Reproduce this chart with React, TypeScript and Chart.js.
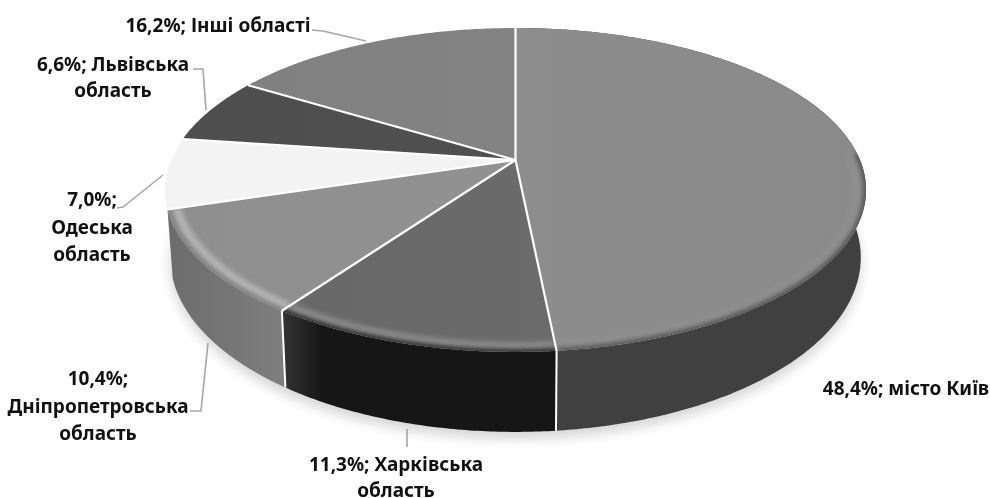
import React, { useEffect, useRef } from "react";
import { Chart, registerables } from "chart.js";

Chart.register(...registerables);

const regions = ["місто Київ", "Харківська область", "Дніпропетровська область", "Одеська область", "Львівська область", "Інші області"];
const shares = [48.4, 11.3, 10.4, 7.0, 6.6, 16.2];
const topColors = ["#909090", "#676767", "#8f8f8f", "#f3f3f3", "#4e4e4e", "#7f7f7f"];
const topColorsEnd = ["#8a8a8a", "#6e6e6e", "#939393", "#f3f3f3", "#515151", "#878787"];
const wallLeft = ["#333333", "#343434", "#6c6c6c", "#ffffff", "#333333", "#555555"];
const wallRight = ["#404040", "#161616", "#7e7e7e", "#ffffff", "#333333", "#555555"];
const bevelLight = ["#8f8f8f", "#8c8c8c", "#b5b5b5", "#f3f3f3", "#4e4e4e", "#7f7f7f"];
const labelLines = [
  ["48,4%; місто Київ"],
  ["11,3%; Харківська", "область"],
  ["10,4%;", "Дніпропетровська", "область"],
  ["7,0%;", "Одеська", "область"],
  ["6,6%; Львівська", "область"],
  ["16,2%; Інші області"],
];

// label layout: centre x, first-line centre y, line step
const labelLayout = [
  { x: 906, y: 390, step: 0 },
  { x: 396, y: 466, step: 26 },
  { x: 98, y: 380, step: 27.5 },
  { x: 92, y: 201, step: 27.5 },
  { x: 113, y: 66, step: 26 },
  { x: 218, y: 27, step: 0 },
];
const leaders: number[][][] = [
  [],
  [[407, 429], [407, 447]],
  [[190, 411], [201, 411], [208, 343]],
  [[117, 208], [123, 207], [163, 175]],
  [[193, 69], [203, 69], [206, 110]],
  [[312, 30], [323, 31], [366, 41]],
];

const CX = 515.5;
const CY = 160;
const R = 344.5;
const K = 156.4;
const C = 0.185;
const DEPTH = 65.2;
const BOTTOM_X = 0.985;

function top(a: number, r = 1): [number, number] {
  const u = Math.cos(a) * r;
  const v = Math.sin(a) * r;
  const den = 1 - C * v;
  return [CX + (R * u) / den, CY + (K * v) / den];
}
function bottom(a: number): [number, number] {
  const [x, y] = top(a);
  const den = 1 - C * Math.sin(a);
  return [CX + (x - CX) * BOTTOM_X, y + DEPTH / den];
}
function samples(a0: number, a1: number): number[] {
  const n = Math.max(2, Math.ceil(Math.abs(a1 - a0) / 0.01));
  const out: number[] = [];
  for (let i = 0; i <= n; i++) out.push(a0 + ((a1 - a0) * i) / n);
  return out;
}

const pie3d = {
  id: "pie3d",
  beforeDatasetsDraw(chart: any) {
    const ctx: CanvasRenderingContext2D = chart.ctx;
    const arcs: any[] = chart.getDatasetMeta(0).data;
    ctx.save();

    // soft ground shadow
    ctx.save();
    ctx.filter = "blur(6px)";
    ctx.fillStyle = "#d6d6d6";
    ctx.beginPath();
    samples(0, Math.PI * 2).forEach((a, i) => {
      const [x, y] = bottom(a);
      if (i) ctx.lineTo(x, y + 7); else ctx.moveTo(x, y + 7);
    });
    ctx.closePath();
    ctx.fill();
    ctx.restore();

    // walls
    arcs.forEach((arc, i) => {
      if (Math.sin((arc.startAngle + arc.endAngle) / 2) < 0.1 && i > 2) return;
      const pts = samples(arc.startAngle, arc.endAngle);
      const x0 = top(arc.endAngle)[0];
      const x1 = top(arc.startAngle)[0];
      const left = Math.min(x0, x1);
      const right = Math.max(x0, x1);
      const g = ctx.createLinearGradient(left, 0, i === 1 ? left + 40 : right, 0);
      g.addColorStop(0, wallLeft[i]);
      g.addColorStop(1, wallRight[i]);
      ctx.fillStyle = g;
      ctx.beginPath();
      pts.forEach((a, j) => {
        const [x, y] = top(a);
        if (j) ctx.lineTo(x, y); else ctx.moveTo(x, y);
      });
      pts.slice().reverse().forEach((a) => {
        const [x, y] = bottom(a);
        ctx.lineTo(x, y);
      });
      ctx.closePath();
      ctx.fill();
    });

    // wall separators
    arcs.forEach((arc) => {
      const s = Math.sin(arc.startAngle);
      if (s < 0.5) return;
      const p = top(arc.startAngle);
      const q = bottom(arc.startAngle);
      ctx.strokeStyle = "#ffffff";
      ctx.lineWidth = 2;
      ctx.beginPath();
      ctx.moveTo(p[0], p[1]);
      ctx.lineTo(q[0], q[1]);
      ctx.stroke();
    });

    // top faces
    arcs.forEach((arc, i) => {
      const pts = samples(arc.startAngle, arc.endAngle);
      const path = new Path2D();
      path.moveTo(CX, CY);
      pts.forEach((a) => {
        const [x, y] = top(a);
        path.lineTo(x, y);
      });
      path.closePath();
      const g = ctx.createLinearGradient(CX - R, 0, CX + R, 0);
      g.addColorStop(0, topColors[i]);
      g.addColorStop(1, topColorsEnd[i]);
      ctx.fillStyle = g;
      ctx.fill(path);

      const front = pts.filter((a) => Math.sin(a) > -0.05);
      if (front.length > 1 && i < 3) {
        ctx.save();
        ctx.clip(path);
        const rim = (r: number) => {
          ctx.beginPath();
          front.forEach((a, j) => {
            const [x, y] = top(a, r);
            if (j) ctx.lineTo(x, y); else ctx.moveTo(x, y);
          });
          ctx.stroke();
        };
        ctx.filter = "blur(2.5px)";
        ctx.strokeStyle = bevelLight[i];
        ctx.lineWidth = 8;
        rim(0.975);
        ctx.strokeStyle = wallRight[i];
        ctx.lineWidth = 4;
        rim(1.0);
        ctx.restore();
      }
    });

    // separators on the top face
    arcs.forEach((arc) => {
      const p = top(arc.startAngle);
      ctx.strokeStyle = "#ffffff";
      ctx.lineWidth = 2.2;
      ctx.beginPath();
      ctx.moveTo(CX, CY);
      ctx.lineTo(p[0], p[1]);
      ctx.stroke();
    });
    ctx.restore();
    return false;
  },
  afterDraw(chart: any) {
    const ctx: CanvasRenderingContext2D = chart.ctx;
    ctx.save();
    ctx.strokeStyle = "#a6a6a6";
    ctx.lineWidth = 1.6;
    leaders.forEach((line) => {
      if (!line.length) return;
      ctx.beginPath();
      line.forEach(([x, y], j) => (j ? ctx.lineTo(x, y) : ctx.moveTo(x, y)));
      ctx.stroke();
    });
    ctx.fillStyle = "#111111";
    ctx.font = 'bold 19px "Noto Sans", sans-serif';
    ctx.textAlign = "center";
    ctx.textBaseline = "middle";
    labelLines.forEach((lines, i) => {
      const l = labelLayout[i];
      lines.forEach((t, j) => ctx.fillText(t, l.x, l.y + j * l.step));
    });
    ctx.restore();
  },
};

export default function App() {
  const ref = useRef<HTMLCanvasElement>(null);
  useEffect(() => {
    document.body.style.margin = "0";
    const chart = new Chart(ref.current!, {
      type: "pie",
      data: {
        labels: regions,
        datasets: [{ data: shares, backgroundColor: topColors, borderColor: "#ffffff", borderWidth: 2 }],
      },
      options: {
        animation: false,
        responsive: false,
        plugins: { legend: { display: false }, tooltip: { enabled: false } },
      },
      plugins: [pie3d],
    } as any);
    return () => chart.destroy();
  }, []);
  return (
    <canvas
      ref={ref}
      width={990}
      height={498}
      style={{ display: "block", width: 990, height: 498, filter: "blur(0.4px)" }}
    />
  );
}
